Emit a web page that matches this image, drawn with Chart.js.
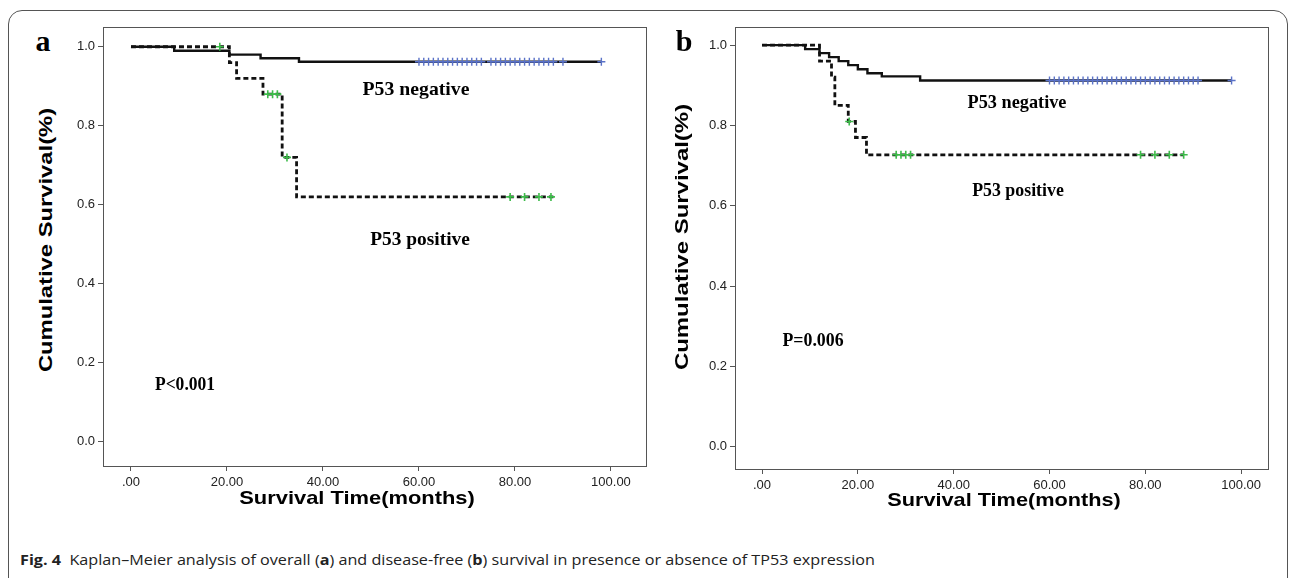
<!DOCTYPE html>
<html lang="en">
<head>
  <meta charset="UTF-8" />
  <title>Kaplan-Meier TP53</title>
  <script src="https://cdn.jsdelivr.net/npm/chart.js"></script>
  <style>
    body {
      margin: 0;
      background: #fff;
      width: 1295px;
      height: 578px;
      position: relative;
      overflow: hidden;
    }
    .outer {
      position: absolute;
      left: 8px; top: 10px;
      width: 1278px; height: 640px;
      border: 1px solid #555;
      border-radius: 14px;
    }
    canvas { position: absolute; top: 0; }
    .txt {
      position: absolute;
      white-space: nowrap;
      line-height: 1;
      color: #000;
    }
    .serif { font-family: "Liberation Serif", "DejaVu Serif", serif; font-weight: bold; }
    .axt { font-family: "Liberation Sans", Arial, sans-serif; font-weight: bold; }
    .cap { font-family: "Open Sans", sans-serif; font-size: 15px; color: #222; }
  </style>
</head>
<body>
  <div class="outer"></div>
  <canvas id="chartA" width="600" height="500" style="left:60px"></canvas>
  <canvas id="chartB" width="600" height="500" style="left:690px"></canvas>

  <script>
    // axis ticks
    const xTicks = [0, 20, 40, 60, 80, 100];
    const yTicks = [0, 0.2, 0.4, 0.6, 0.8, 1.0];

    // panel a - overall survival
    const aNegTime = [0, 9, 20.5, 27, 35, 98];
    const aNegSurv = [1, 0.99, 0.98, 0.971, 0.962, 0.962];
    const aNegCensor = [60, 61, 62, 63, 64, 65, 66, 67, 68, 69, 70, 71, 72, 73, 75, 76, 77, 78, 79, 80, 81, 82, 83, 84, 85, 86, 87, 88, 90, 98];
    const aPosTime = [0, 20.5, 22, 27.5, 31.5, 34.5, 88];
    const aPosSurv = [1, 0.96, 0.92, 0.88, 0.72, 0.62, 0.62];
    const aPosCensor = [18.5, 28.5, 29.5, 30.5, 32.5, 79, 82, 85, 87.5];

    // panel b - disease-free survival
    const bNegTime = [0, 9, 12, 14, 16, 18, 20, 22, 25, 33, 98];
    const bNegSurv = [1, 0.99, 0.98, 0.97, 0.96, 0.95, 0.94, 0.93, 0.922, 0.912, 0.912];
    const bNegCensor = [60, 61, 62, 63, 64, 65, 66, 67, 68, 69, 70, 71, 72, 73, 74, 75, 76, 77, 78, 79, 80, 81, 82, 83, 84, 85, 86, 87, 88, 89, 90, 91, 98];
    const bPosTime = [0, 12, 14.5, 15.2, 18, 19.5, 21.8, 88];
    const bPosSurv = [1, 0.96, 0.92, 0.85, 0.81, 0.77, 0.727, 0.727];
    const bPosCensor = [18.2, 28, 29, 30, 31, 79, 82, 85, 88];

    function survAt(times, surv, t) {
      let s = surv[0];
      for (let i = 0; i < times.length; i++) if (times[i] <= t) s = surv[i];
      return s;
    }
    const pts = (times, surv) => times.map((t, i) => ({ x: t, y: surv[i] }));
    const censorPts = (c, times, surv) => c.map(t => ({ x: t, y: survAt(times, surv, t) }));

    const framePlugin = {
      id: 'frame',
      afterDraw(chart) {
        const { ctx, chartArea: a } = chart;
        ctx.save();
        ctx.strokeStyle = '#555';
        ctx.lineWidth = 1;
        ctx.strokeRect(Math.round(a.left) + 0.5, Math.round(a.top) + 0.5, Math.round(a.right - a.left), Math.round(a.bottom - a.top));
        ctx.restore();
      }
    };

    function makeChart(id, p) {
      const tickFont = { family: 'Liberation Sans', size: 13 };
      return new Chart(document.getElementById(id), {
        type: 'scatter',
        data: {
          datasets: [
            { data: censorPts(p.negC, p.negT, p.negS), pointStyle: 'cross', pointRadius: 4, borderColor: '#5a72c8', borderWidth: 1.4, showLine: false },
            { data: censorPts(p.posC, p.posT, p.posS), pointStyle: 'cross', pointRadius: 4, borderColor: '#3dbb4a', borderWidth: 1.6, showLine: false },
            { data: pts(p.negT, p.negS), showLine: true, stepped: true, pointRadius: 0, borderColor: '#111', borderWidth: 2.4 },
            { data: pts(p.posT, p.posS), showLine: true, stepped: true, pointRadius: 0, borderColor: '#111', borderWidth: 2.8, borderDash: [5, 3] }
          ]
        },
        options: {
          responsive: false,
          animation: false,
          layout: { padding: { left: 0, top: 27, right: p.padRight, bottom: 0 } },
          plugins: { legend: { display: false }, tooltip: { enabled: false } },
          scales: {
            x: {
              type: 'linear', min: p.xMin, max: p.xMax,
              afterBuildTicks: s => { s.ticks = xTicks.map(v => ({ value: v })); },
              afterFit: s => { s.height = p.xHeight; },
              ticks: { callback: v => v === 0 ? '.00' : v.toFixed(2), font: tickFont, color: '#222', padding: 4, maxRotation: 0, autoSkip: false },
              grid: { drawOnChartArea: false, tickLength: 5, color: '#555' },
              border: { color: '#555' }
            },
            y: {
              type: 'linear', min: p.yMin, max: p.yMax,
              afterBuildTicks: s => { s.ticks = yTicks.map(v => ({ value: v })); },
              afterFit: s => { s.width = p.yWidth; },
              ticks: { callback: v => v.toFixed(1), font: tickFont, color: '#222', padding: 3 },
              grid: { drawOnChartArea: false, tickLength: 5, color: '#555' },
              border: { color: '#555' }
            }
          }
        },
        plugins: [framePlugin]
      });
    }

    makeChart('chartA', {
      negT: aNegTime, negS: aNegSurv, negC: aNegCensor,
      posT: aPosTime, posS: aPosSurv, posC: aPosCensor,
      xMin: -5.83, xMax: 107.3, yMin: -0.061, yMax: 1.05, yWidth: 43, padRight: 14, xHeight: 34
    });
    makeChart('chartB', {
      negT: bNegTime, negS: bNegSurv, negC: bNegCensor,
      posT: bPosTime, posS: bPosSurv, posC: bPosCensor,
      xMin: -5.64, xMax: 105.6, yMin: -0.055, yMax: 1.045, yWidth: 45, padRight: 22, xHeight: 31
    });

    // text labels: [text, class, size, cx, cy, target width, rotate]
    const labels = [
      ['a', 'serif', 30, 43, 41, 0, false],
      ['b', 'serif', 30, 684, 41, 0, false],
      ['P53 negative', 'serif', 19, 416, 88, 107, false],
      ['P53 positive', 'serif', 19, 420, 238, 100, false],
      ['P<0.001', 'serif', 19, 185, 383, 60, false],
      ['P53 negative', 'serif', 19, 1017, 101, 99, false],
      ['P53 positive', 'serif', 19, 1018, 189, 92, false],
      ['P=0.006', 'serif', 19, 813, 339, 61, false],
      ['Survival Time(months)', 'axt', 19, 357, 497, 235, false],
      ['Survival Time(months)', 'axt', 19, 1004, 499, 233, false],
      ['Cumulative Survival(%)', 'axt', 19, 45, 240, 264, true],
      ['Cumulative Survival(%)', 'axt', 19, 681, 237, 266, true]
    ];
    labels.forEach(([text, cls, size, cx, cy, w, rot]) => {
      const el = document.createElement('div');
      el.className = 'txt ' + cls;
      el.style.fontSize = size + 'px';
      el.textContent = text;
      document.body.appendChild(el);
      const k = w ? w / el.offsetWidth : 1;
      el.style.left = cx + 'px';
      el.style.top = cy + 'px';
      el.style.transform = 'translate(-50%,-50%)' + (rot ? ' rotate(-90deg)' : '') + ' scaleX(' + k + ')';
    });

    // caption
    const cap = document.createElement('div');
    cap.className = 'txt cap';
    cap.innerHTML = '<b>Fig. 4</b>&nbsp; Kaplan–Meier analysis of overall (<b>a</b>) and disease-free (<b>b</b>) survival in presence or absence of TP53 expression';
    document.body.appendChild(cap);
    const ck = 855 / cap.offsetWidth;
    cap.style.left = '20px';
    cap.style.top = '552px';
    cap.style.transformOrigin = '0 0';
    cap.style.transform = 'scaleX(' + ck + ')';
  </script>
</body>
</html>
